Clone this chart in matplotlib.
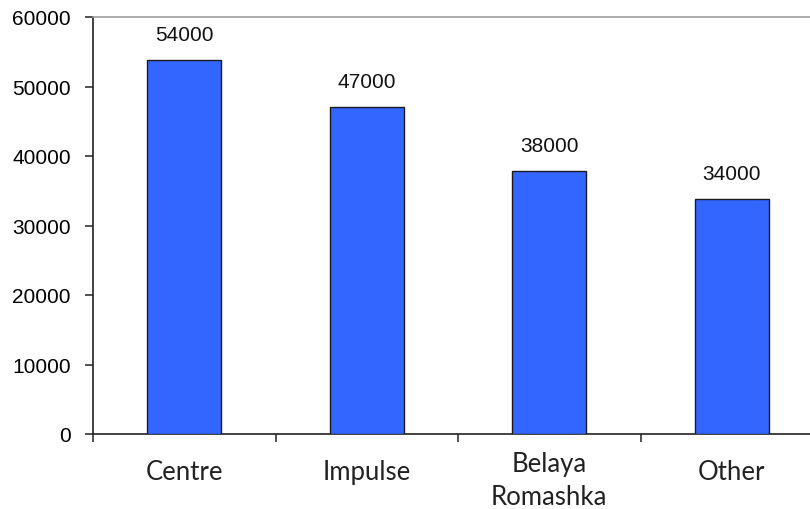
import matplotlib
matplotlib.use("Agg")
import matplotlib.pyplot as plt
from matplotlib import transforms

categories = ["Centre", "Impulse", "Belaya\nRomashka", "Other"]
values = [53800, 47000, 37800, 33800]
value_labels = ["54000", "47000", "38000", "34000"]
y_ticks = [0, 10000, 20000, 30000, 40000, 50000, 60000]

fig = plt.figure(figsize=(8.1, 5.1), dpi=100)
ax = fig.add_axes([93/810, 75/510, 730/810, 417/510])

x = list(range(len(categories)))
ax.bar(x, values, width=0.405, color="#3366FF", edgecolor="#1a1a1a", linewidth=1.0, zorder=3)

ax.set_xlim(-0.5, len(categories) - 0.5)
ax.set_ylim(0, 60000)
ax.set_yticks(y_ticks)
ax.set_yticklabels([str(v) for v in y_ticks], fontfamily="Liberation Sans", fontsize=15)
ax.tick_params(axis="y", length=6, width=1.1, pad=10, color="#222222")

# boundaries ticks
ax.set_xticks([i - 0.5 for i in x])
ax.set_xticklabels([])
ax.tick_params(axis="x", length=6, width=1.1, direction="out", color="#222222")

for s in ["left", "bottom"]:
    ax.spines[s].set_color("#222222")
    ax.spines[s].set_linewidth(1.2)
ax.spines["top"].set_color("#a0a0a0")
ax.spines["top"].set_linewidth(1.2)
ax.spines["right"].set_visible(False)

trans = transforms.blended_transform_factory(ax.transData, ax.transAxes)
for xi, cat in zip(x, categories):
    nlines = cat.count("\n") + 1
    offset = 38 if nlines == 1 else 46
    ax.text(xi, -offset/417, cat, transform=trans, ha="center", va="center",
            fontfamily="Lato", fontsize=18.5, color="#222222", linespacing=1.38)

for xi, v, lab in zip(x, values, value_labels):
    ax.annotate(lab, (xi, v), xytext=(0, 18.7), textcoords="offset points",
                ha="center", va="center", fontfamily="Liberation Sans", fontsize=15,
                color="#111111")

fig.savefig("out.png", dpi=100)
